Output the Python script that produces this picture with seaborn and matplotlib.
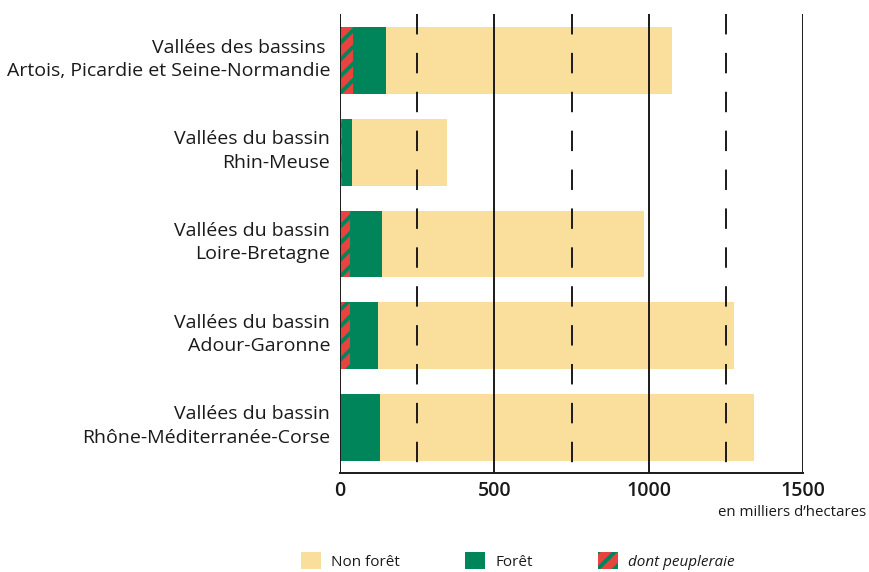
import numpy as np
import pandas as pd
import matplotlib
matplotlib.use('Agg')
import matplotlib.pyplot as plt
import matplotlib.transforms as mtransforms
from matplotlib.patches import Patch
import seaborn as sns

# Data (en milliers d'hectares)
categories = [
    "Vallées des bassins \nArtois, Picardie et Seine-Normandie",
    "Vallées du bassin\nRhin-Meuse",
    "Vallées du bassin\nLoire-Bretagne",
    "Vallées du bassin\nAdour-Garonne",
    "Vallées du bassin\nRhône-Méditerranée-Corse",
]
foret = [148, 39, 135, 123, 130]
non_foret = [929, 307, 851, 1155, 1211]
peupleraie = [41, 5, 32, 32, 0]

xticks = [0, 500, 1000, 1500]
dashed_ticks = [250, 750, 1250]

col_non_foret = '#F9DF9B'
col_foret = '#00855A'
col_peuplier = '#E8433F'

sns.set_theme(style='white')
plt.rcParams['font.family'] = ['Open Sans', 'DejaVu Sans']
plt.rcParams['hatch.linewidth'] = 2.8

df = pd.DataFrame({
    'cat': categories,
    'foret': foret,
    'non_foret': non_foret,
    'peupleraie': peupleraie,
})
df['total'] = df['foret'] + df['non_foret']

fig = plt.figure(figsize=(8.7, 5.72), dpi=100)
ax = fig.add_axes([340 / 870, 1 - 473 / 572, 463 / 870, (473 - 14) / 572])

bar_w = 0.73
sns.barplot(data=df, x='total', y='cat', orient='h', color=col_non_foret,
            saturation=1, width=bar_w, linewidth=0, ax=ax)
sns.barplot(data=df, x='foret', y='cat', orient='h', color=col_foret,
            saturation=1, width=bar_w, linewidth=0, ax=ax)
sns.barplot(data=df, x='peupleraie', y='cat', orient='h', color=col_peuplier,
            saturation=1, width=bar_w, linewidth=0, hatch='//', ax=ax)
# hatch colour comes from edgecolor
for p in ax.patches[2 * len(df):]:
    p.set_edgecolor(col_foret)
    p.set_linewidth(0)

# reference lines drawn on top of the bars
ax.vlines(xticks, -0.507, 4.496, colors='#1a1a1a', linewidth=1.4, zorder=5)
ax.vlines(dashed_ticks, -0.507, 4.496, colors='#1a1a1a', linewidth=1.4,
          linestyles=(0, (10.5, 9.5)), zorder=5)

ax.set_xlim(0, 1500)
ax.set_ylim(4.496, -0.507)
for s in ['top', 'right', 'left']:
    ax.spines[s].set_visible(False)
ax.spines['bottom'].set_color('#1a1a1a')
ax.spines['bottom'].set_linewidth(1.4)

ax.set_xticks(xticks)
ax.set_xticklabels([str(t) for t in xticks], fontsize=14, fontweight='semibold')
ax.tick_params(axis='x', length=0, pad=6, colors='#1a1a1a')
ax.tick_params(axis='y', length=0, pad=7)
shift_up = mtransforms.ScaledTranslation(0, 6 / 100, fig.dpi_scale_trans)
for lab in ax.get_yticklabels():
    lab.set_fontsize(14)
    lab.set_color('#1a1a1a')
    lab.set_linespacing(1.38)
    lab.set_multialignment('right')
    lab.set_transform(lab.get_transform() + shift_up)
ax.set_xlabel('')
ax.set_ylabel('')

fig.text(866 / 870, 1 - 512 / 572, "en milliers d\u2019hectares", ha='right', va='center',
         fontsize=10.8, color='#1a1a1a')

handles = [
    Patch(facecolor=col_non_foret, edgecolor='none', label='Non forêt'),
    Patch(facecolor=col_foret, edgecolor='none', label='Forêt'),
    Patch(facecolor=col_peuplier, edgecolor=col_foret, linewidth=0, hatch='//',
          label='dont peupleraie'),
]
leg = fig.legend(handles=handles, loc='center', bbox_to_anchor=(518 / 870, 1 - 561 / 572),
                 ncol=3, frameon=False, fontsize=11, handlelength=1.3, handleheight=1.35,
                 handletextpad=0.65, columnspacing=4.3)
for t in leg.get_texts():
    t.set_color('#1a1a1a')
leg.get_texts()[2].set_fontstyle('italic')

fig.savefig('out.png', dpi=100)
